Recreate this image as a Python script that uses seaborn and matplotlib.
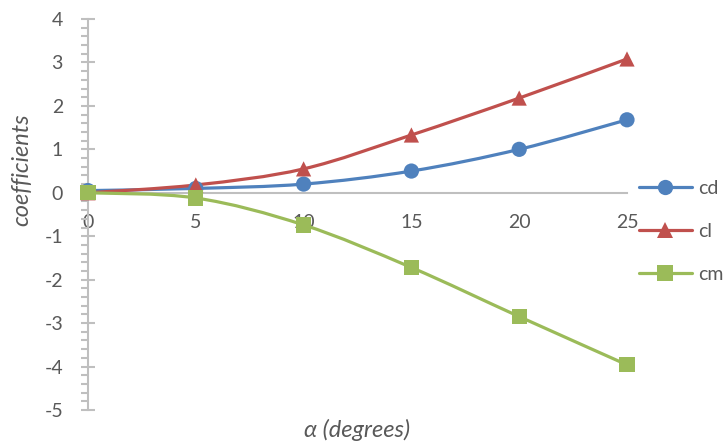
import numpy as np
import pandas as pd
import matplotlib
matplotlib.use("Agg")
import matplotlib.pyplot as plt
from matplotlib.path import Path
from matplotlib.patches import PathPatch
from matplotlib.lines import Line2D
from matplotlib.ticker import MultipleLocator
import seaborn as sns

# Aerodynamic coefficients versus angle of attack
alpha = [0, 5, 10, 15, 20, 25]
cd = [0.05, 0.10, 0.20, 0.50, 1.00, 1.68]
cl = [0.00, 0.18, 0.55, 1.33, 2.18, 3.08]
cm = [0.00, -0.12, -0.74, -1.72, -2.85, -3.96]

series_names = ["cd", "cl", "cm"]
series_values = [cd, cl, cm]
colors = {"cd": "#4F81BD", "cl": "#C0504D", "cm": "#9BBB59"}
markers = {"cd": "o", "cl": "^", "cm": "s"}

df = pd.DataFrame({
    "alpha": alpha * 3,
    "value": cd + cl + cm,
    "series": [n for n in series_names for _ in alpha],
})

sns.set_style("white")
plt.rcParams["font.family"] = ["Lato", "DejaVu Sans"]
plt.rcParams["axes.unicode_minus"] = False

fig = plt.figure(figsize=(7.27, 4.45), dpi=100)
W, H = 727, 445
ax = fig.add_axes([88 / W, 1 - 410 / H, (627 - 88) / W, (410 - 19) / H])

label_color = "#595959"
axis_color = "#BFBFBF"


def smooth_path(xs, ys):
    """Bezier path through the points, Catmull-Rom style tangents."""
    pts = np.column_stack([xs, ys]).astype(float)
    n = len(pts)
    verts = [pts[0]]
    codes = [Path.MOVETO]
    for i in range(n - 1):
        p0 = pts[i - 1] if i > 0 else pts[i]
        p1 = pts[i]
        p2 = pts[i + 1]
        p3 = pts[i + 2] if i + 2 < n else pts[i + 1]
        c1 = p1 + (p2 - p0) / 6.0
        c2 = p2 - (p3 - p1) / 6.0
        verts += [c1, c2, p2]
        codes += [Path.CURVE4] * 3
    return Path(verts, codes)


for name, vals in zip(series_names, series_values):
    patch = PathPatch(smooth_path(alpha, vals), facecolor="none",
                      edgecolor=colors[name], lw=2.3, zorder=3,
                      capstyle="round", clip_on=False)
    ax.add_patch(patch)

sns.scatterplot(data=df, x="alpha", y="value", hue="series", style="series",
                palette=colors, markers=markers, s=120, linewidth=0,
                legend=False, ax=ax, zorder=4, clip_on=False)

ax.set_xlim(0, 25)
ax.set_ylim(-5, 4)

# axes crossing at the origin
for side in ("top", "right"):
    ax.spines[side].set_visible(False)
ax.spines["bottom"].set_position(("data", 0))
for side in ("left", "bottom"):
    ax.spines[side].set_color(axis_color)
    ax.spines[side].set_linewidth(1.5)
    ax.spines[side].set_zorder(2)

ax.xaxis.set_major_locator(MultipleLocator(5))
ax.yaxis.set_major_locator(MultipleLocator(1))
ax.yaxis.set_minor_locator(MultipleLocator(0.2))
ax.tick_params(axis="x", which="both", length=0, pad=15, bottom=False,
               labelsize=14, labelcolor=label_color)
ax.tick_params(axis="y", which="major", left=True, direction="inout",
               length=10, width=1.5, color=axis_color, pad=13,
               labelsize=14, labelcolor=label_color)
ax.tick_params(axis="y", which="minor", left=True, direction="out",
               length=5, width=1.5, color=axis_color)

ax.set_xlabel("α (degrees)", fontsize=17, style="italic", color=label_color)
ax.set_ylabel("coefficients", fontsize=17, style="italic", color=label_color)
ax.xaxis.set_label_coords(0.5, -0.022)
ax.yaxis.set_label_coords(-0.104, 0.614)

handles = [Line2D([], [], color=colors[n], lw=2.3, marker=markers[n],
                  markersize=11, markeredgewidth=0) for n in series_names]
fig.legend(handles, series_names, loc="upper left",
           bbox_to_anchor=(629 / W, 1 - 170 / H), frameon=False,
           fontsize=14, handlelength=2.75, handletextpad=0.3,
           labelspacing=1.35, borderpad=0, labelcolor=label_color)

fig.savefig("out.png", dpi=100)
